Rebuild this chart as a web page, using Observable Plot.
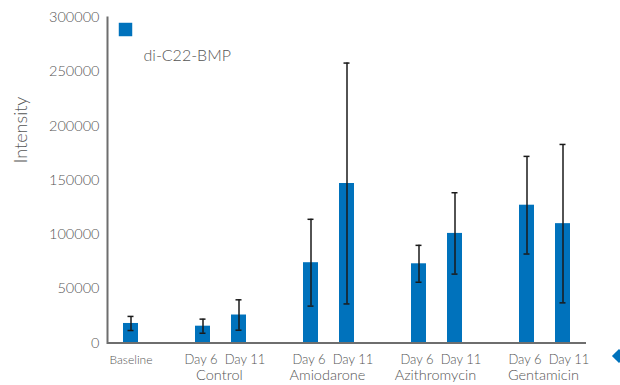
<!DOCTYPE html>
<html>
<head>
<meta charset="utf-8">
<script src="https://cdn.jsdelivr.net/npm/d3@7"></script>
<script src="https://cdn.jsdelivr.net/npm/@observablehq/plot@0.6"></script>
<style>
  html, body { margin: 0; padding: 0; background: #fff; }
  #wrap { position: relative; width: 620px; height: 385px; overflow: hidden; }
  #deco { position: absolute; left: 614px; top: 351px; width: 10px; height: 10px; background: #0072BC; transform: rotate(45deg); }
</style>
</head>
<body>
<div id="wrap"><div id="chart"></div><div id="deco"></div></div>
<script>
// ---- data ----
const categories = ["Baseline", "Control|Day 6", "Control|Day 11", "Amiodarone|Day 6", "Amiodarone|Day 11",
                    "Azithromycin|Day 6", "Azithromycin|Day 11", "Gentamicin|Day 6", "Gentamicin|Day 11"];
const means = [18000, 15500, 25800, 74000, 147000, 73000, 101000, 127000, 110000];
const sds   = [6500, 6500, 14000, 40000, 111000, 17000, 37500, 45000, 73000];
const groups = ["Control", "Amiodarone", "Azithromycin", "Gentamicin"];
const days = ["Day 6", "Day 11"];
const yTicks = [0, 50000, 100000, 150000, 200000, 250000, 300000];
const seriesName = "di-C22-BMP";

// ---- build slot domain (with spacer slots between groups) ----
const slots = ["Baseline"];
groups.forEach((g, i) => { slots.push("gap" + i); days.forEach(d => slots.push(g + "|" + d)); });
const rows = categories.map((c, i) => ({slot: c, mean: means[i], lo: means[i] - sds[i], hi: means[i] + sds[i]}));
const groupRows = groups.map(g => ({slot: g + "|" + days[0], name: g}));
const day6Slots = groups.map(g => g + "|" + days[0]);
const day11Slots = groups.map(g => g + "|" + days[1]);

const W = 620, H = 385, ML = 107, MR = 34, MT = 17, MB = 42.5;
const pInner = 0.593, pOuter = 0.3;
const step = (W - ML - MR) / (slots.length - pInner + 2 * pOuter);
const font = "Lato, 'Open Sans', sans-serif";
const gray = "#555555";
const blue = "#0072BC";

const chart = Plot.plot({
  width: W, height: H,
  marginLeft: ML, marginRight: MR, marginTop: MT, marginBottom: MB,
  style: {fontFamily: font, color: gray, background: "transparent", fontWeight: 300},
  x: {domain: slots, paddingInner: pInner, paddingOuter: pOuter, align: 0.5},
  y: {domain: [0, 300000]},
  marks: [
    Plot.axisY({ticks: yTicks, tickSize: 0, tickPadding: 8, tickFormat: d => String(d), fontSize: 14.5, label: null, fill: gray}),
    Plot.axisX({ticks: ["Baseline"], tickSize: 0, tickPadding: 12, tickFormat: () => "Baseline", fontSize: 12, label: null, fill: gray}),
    Plot.axisX({ticks: day6Slots, tickSize: 0, tickPadding: 12, tickFormat: d => d.split("|")[1], fontSize: 13, dx: -2, label: null, fill: gray}),
    Plot.axisX({ticks: day11Slots, tickSize: 0, tickPadding: 12, tickFormat: d => d.split("|")[1], fontSize: 13, dx: 6, label: null, fill: gray}),
    Plot.text(groupRows, {x: "slot", text: "name", frameAnchor: "bottom", dy: 37, dx: step / 2 - 2, fontSize: 14.5, fill: gray}),
    Plot.text(["Intensity"], {frameAnchor: "left", text: d => d, rotate: -90, dx: -86, dy: -17, fontSize: 18, fill: gray}),
    Plot.barY(rows, {x: "slot", y: "mean", fill: blue}),
    Plot.ruleX(rows, {x: "slot", y1: "lo", y2: "hi", stroke: "#1a1a1a", strokeWidth: 1.5}),
    Plot.tickY(rows, {x: "slot", y: "lo", stroke: "#1a1a1a", strokeWidth: 1.5, insetLeft: 4.5, insetRight: 4.5}),
    Plot.tickY(rows, {x: "slot", y: "hi", stroke: "#1a1a1a", strokeWidth: 1.5, insetLeft: 4.5, insetRight: 4.5}),
    Plot.ruleY([0], {stroke: "#6e6e6e", strokeWidth: 2}),
    Plot.frame({anchor: "left", stroke: "#6e6e6e", strokeWidth: 2}),
    Plot.dot([seriesName], {frameAnchor: "top-left", symbol: "square", r: 7.6, fill: blue, stroke: null, dx: 18, dy: 12}),
    Plot.text([seriesName], {frameAnchor: "top-left", text: d => d, textAnchor: "start", dx: 36, dy: 32, fontSize: 16, fill: gray})
  ]
});
document.getElementById("chart").append(chart);
</script>
</body>
</html>
